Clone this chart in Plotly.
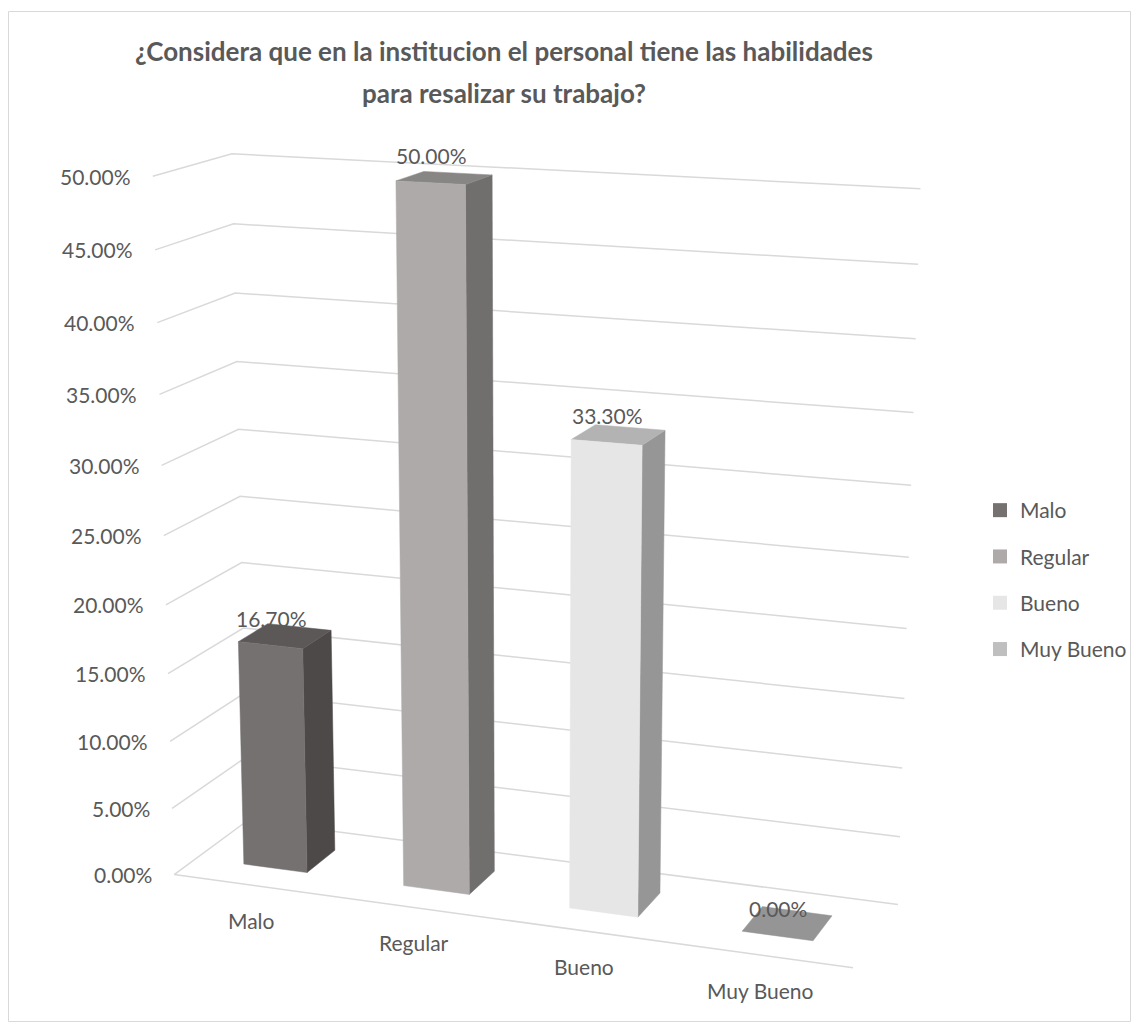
import numpy as np
import plotly.graph_objects as go

W, H = 1137, 1031

categories = ["Malo", "Regular", "Bueno", "Muy Bueno"]
values = [0.167, 0.50, 0.333, 0.0]
value_labels = ["16.70%", "50.00%", "33.30%", "0.00%"]
tick_values = [0.0, 0.05, 0.10, 0.15, 0.20, 0.25, 0.30, 0.35, 0.40, 0.45, 0.50]
tick_labels = ["0.00%", "5.00%", "10.00%", "15.00%", "20.00%", "25.00%",
               "30.00%", "35.00%", "40.00%", "45.00%", "50.00%"]
front_colors = ["#767171", "#AEAAAA", "#E7E6E6", "#BFBFBF"]

# 3-D view: box spans 4 categories wide, 0..50 % high, one unit deep
Y_MAX = 0.5
Y_SCALE = 8.02        # world height of a 100 % column
DEPTH = 0.983         # world depth of the floor
YAW = 0.3556          # rotation about the vertical axis (rad)
PITCH = 0.2558        # downward tilt of the camera (rad)
DIST = 17.235         # camera distance to the box centre
FOCAL = 3137.6        # focal length in pixels
CENTER = (531.4, 546.3)

BAR_W = 0.4           # column width as a fraction of a category
Z0, Z1 = 0.3, 0.7     # column depth range


def project(X, V, Z):
    px = X - len(categories) / 2
    py = (V - Y_MAX / 2) * Y_SCALE
    pz = (Z - 0.5) * DEPTH
    a = np.cos(YAW) * px + np.sin(YAW) * pz
    b = -np.sin(YAW) * px + np.cos(YAW) * pz
    c = np.cos(PITCH) * py + np.sin(PITCH) * b
    d = -np.sin(PITCH) * py + np.cos(PITCH) * b + DIST
    return float(CENTER[0] + FOCAL * a / d), float(CENTER[1] - FOCAL * c / d)


fig = go.Figure()
grid = dict(color="#D9D9D9", width=1.5)


def polyline(pts):
    xs, ys = zip(*pts)
    fig.add_trace(go.Scatter(x=xs, y=ys, mode="lines", line=grid, hoverinfo="skip",
                             showlegend=False))


# wall gridlines (left wall + back wall) and the floor's front edge
for v in tick_values:
    polyline([project(0, v, 0), project(0, v, 1), project(len(categories), v, 1)])
polyline([project(0, 0, 0), project(len(categories), 0, 0)])


def face(pts, color, name):
    xs, ys = zip(*(pts + [pts[0]]))
    fig.add_trace(go.Scatter(x=xs, y=ys, mode="lines", fill="toself", fillcolor=color,
                             line=dict(color=color, width=0.5), name=name,
                             hoverinfo="name", showlegend=False))


def shade(hexc, k):
    r, g, b = (int(hexc[i:i + 2], 16) for i in (1, 3, 5))
    return "#%02x%02x%02x" % tuple(int(round(c * k)) for c in (r, g, b))


# columns, back-left first so nearer ones overlap
for i, (cat, v, col) in enumerate(zip(categories, values, front_colors)):
    x0 = i + 0.5 - BAR_W / 2
    x1 = i + 0.5 + BAR_W / 2
    if v > 0:
        face([project(x1, 0, Z0), project(x1, 0, Z1), project(x1, v, Z1), project(x1, v, Z0)],
             shade(col, 0.65), cat)
    face([project(x0, v, Z0), project(x1, v, Z0), project(x1, v, Z1), project(x0, v, Z1)],
         shade(col, 0.78), cat)
    if v > 0:
        face([project(x0, 0, Z0), project(x1, 0, Z0), project(x1, v, Z0), project(x0, v, Z0)],
             col, cat)

txt = dict(family="Lato", size=21, color="#595959")
for v, lab in zip(tick_values, tick_labels):
    x, y = project(0, v, 0)
    fig.add_annotation(x=x, y=y, text=lab, showarrow=False, xanchor="right",
                       yanchor="middle", xshift=-20, font=txt)
for i, (cat, v, lab) in enumerate(zip(categories, values, value_labels)):
    x, y = project(i + 0.5, v, Z0)
    fig.add_annotation(x=x, y=y, text=lab, showarrow=False, xanchor="center",
                       yanchor="middle", yshift=27, xshift=1, font=txt)
    x, y = project(i + 0.5, 0, 0)
    fig.add_annotation(x=x, y=y, text=cat, showarrow=False, xanchor="center",
                       yanchor="middle", yshift=-35, xshift=-2, font=txt)

for cat, col in zip(categories, front_colors):
    fig.add_trace(go.Scatter(x=[None], y=[None], mode="markers", name=cat,
                             legendgroup=cat,
                             marker=dict(symbol="square", size=14, color=col)))

fig.add_shape(type="rect", xref="x", yref="y", x0=8.5, y0=11.5, x1=1130.5, y1=1021.5,
              line=dict(color="#D9D9D9", width=1))

title_text = ("<span style='font-size:26px'>¿Considera que en la institucion el personal "
              "tiene las habilidades</span><br><span style='font-size:26px'>para resalizar "
              "su trabajo?</span>")

fig.update_layout(
    width=W, height=H, margin=dict(l=0, r=0, t=0, b=0),
    paper_bgcolor="white", plot_bgcolor="white",
    xaxis=dict(range=[0, W], visible=False, fixedrange=True),
    yaxis=dict(range=[H, 0], visible=False, fixedrange=True),
    title=dict(text="<b>" + title_text + "</b>",
               x=504 / W, xanchor="center", y=1 - 61 / H, yanchor="middle",
               font=dict(family="Lato", size=32, color="#595959")),
    legend=dict(x=980 / W, y=1 - 490 / H, xanchor="left", yanchor="top",
                font=txt, tracegroupgap=16, bgcolor="rgba(0,0,0,0)"),
)

fig.write_html("out.html")
